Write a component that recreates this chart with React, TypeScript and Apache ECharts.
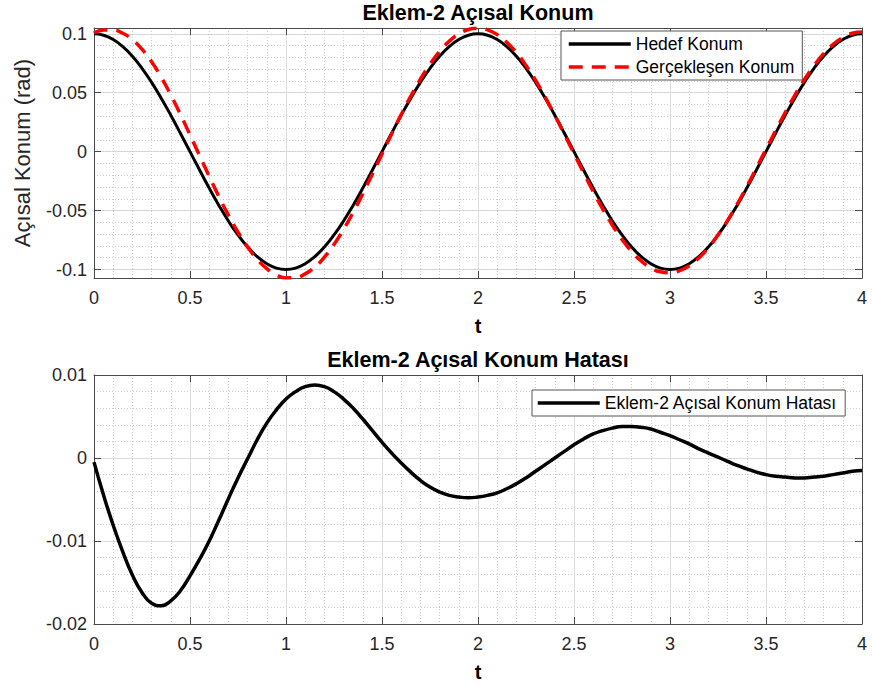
import React, { useEffect, useRef } from "react";
import * as echarts from "echarts";

// time samples (s)
const tValues = [
  0, 0.05, 0.1, 0.15, 0.2, 0.25, 0.3, 0.35, 0.4, 0.45, 0.5,
  0.55, 0.6, 0.65, 0.7, 0.75, 0.8, 0.85, 0.9, 0.95, 1,
  1.05, 1.1, 1.15, 1.2, 1.25, 1.3, 1.35, 1.4, 1.45, 1.5,
  1.55, 1.6, 1.65, 1.7, 1.75, 1.8, 1.85, 1.9, 1.95, 2,
  2.05, 2.1, 2.15, 2.2, 2.25, 2.3, 2.35, 2.4, 2.45, 2.5,
  2.55, 2.6, 2.65, 2.7, 2.75, 2.8, 2.85, 2.9, 2.95, 3,
  3.05, 3.1, 3.15, 3.2, 3.25, 3.3, 3.35, 3.4, 3.45, 3.5,
  3.55, 3.6, 3.65, 3.7, 3.75, 3.8, 3.85, 3.9, 3.95, 4,
];

// Hedef Konum (rad)
const hedefKonum = [
  0.1, 0.0988, 0.0951, 0.0891, 0.0809, 0.0707, 0.0588, 0.0454, 0.0309, 0.0156, 0,
  -0.0156, -0.0309, -0.0454, -0.0588, -0.0707, -0.0809, -0.0891, -0.0951, -0.0988, -0.1,
  -0.0988, -0.0951, -0.0891, -0.0809, -0.0707, -0.0588, -0.0454, -0.0309, -0.0156, 0,
  0.0156, 0.0309, 0.0454, 0.0588, 0.0707, 0.0809, 0.0891, 0.0951, 0.0988, 0.1,
  0.0988, 0.0951, 0.0891, 0.0809, 0.0707, 0.0588, 0.0454, 0.0309, 0.0156, 0,
  -0.0156, -0.0309, -0.0454, -0.0588, -0.0707, -0.0809, -0.0891, -0.0951, -0.0988, -0.1,
  -0.0988, -0.0951, -0.0891, -0.0809, -0.0707, -0.0588, -0.0454, -0.0309, -0.0156, 0,
  0.0156, 0.0309, 0.0454, 0.0588, 0.0707, 0.0809, 0.0891, 0.0951, 0.0988, 0.1,
];

// Gerçekleşen Konum (rad)
const gerceklesenKonum = [
  0.1005, 0.1033, 0.1032, 0.1004, 0.095, 0.0869, 0.0763, 0.0632, 0.0481, 0.0316, 0.0142,
  -0.0034, -0.0209, -0.0379, -0.0539, -0.0683, -0.0808, -0.0913, -0.0993, -0.1046, -0.1071,
  -0.1068, -0.1037, -0.0979, -0.0895, -0.0787, -0.0659, -0.0514, -0.0356, -0.0189, -0.0019,
  0.015, 0.0315, 0.0471, 0.0615, 0.0742, 0.085, 0.0936, 0.0998, 0.1036, 0.1047,
  0.1033, 0.0993, 0.0928, 0.084, 0.0731, 0.0604, 0.0462, 0.0309, 0.0148, -0.0016,
  -0.0179, -0.0338, -0.0487, -0.0624, -0.0745, -0.0847, -0.0928, -0.0986, -0.1019, -0.1027,
  -0.101, -0.0968, -0.0902, -0.0815, -0.0708, -0.0584, -0.0445, -0.0296, -0.0139, 0.002,
  0.0178, 0.0332, 0.0478, 0.0612, 0.073, 0.0831, 0.0911, 0.0969, 0.1004, 0.1015,
];

// Eklem-2 Açısal Konum Hatası (rad)
const konumHatasi = [
  -0.0005, -0.0045, -0.0081, -0.0113, -0.0141, -0.0162, -0.0175, -0.0178, -0.0172, -0.016, -0.0142,
  -0.0122, -0.01, -0.0075, -0.0049, -0.0024, -0.0001, 0.0022, 0.0042, 0.0058, 0.0071,
  0.008, 0.0086, 0.0088, 0.0086, 0.008, 0.0071, 0.006, 0.0047, 0.0033, 0.0019,
  0.0006, -0.0006, -0.0017, -0.0027, -0.0035, -0.0041, -0.0045, -0.0047, -0.0048, -0.0047,
  -0.0045, -0.0042, -0.0037, -0.0031, -0.0024, -0.0016, -0.0008, 0.0, 0.0008, 0.0016,
  0.0023, 0.0029, 0.0033, 0.0036, 0.0038, 0.0038, 0.0037, 0.0035, 0.0031, 0.0027,
  0.0022, 0.0017, 0.0011, 0.0006, 0.0001, -0.0004, -0.0009, -0.0013, -0.0017, -0.002,
  -0.0022, -0.0023, -0.0024, -0.0024, -0.0023, -0.0022, -0.002, -0.0018, -0.0016, -0.0015,
];

const seriesNames = ["Hedef Konum", "Gerçekleşen Konum", "Eklem-2 Açısal Konum Hatası"];
const titles = ["Eklem-2 Açısal Konum", "Eklem-2 Açısal Konum Hatası"];
const xName = "t";
const yName = "Açısal Konum (rad)";

const FONT = '"Liberation Sans", Arial, Helvetica, sans-serif';
const AXIS = "#4a4a4a";
const LABEL = "#262626";
const GRID = "#dcdcdc";
const MINOR = "#cccccc";

const zip = (ys: number[]) => tValues.map((t, i) => [t, ys[i]]);

function bottomX(gridIndex: number) {
  return {
    type: "value",
    gridIndex,
    position: "bottom",
    min: 0,
    max: 4,
    interval: 0.5,
    name: xName,
    nameLocation: "middle",
    nameGap: 38,
    nameTextStyle: { fontFamily: FONT, fontSize: 20, fontWeight: "bold", color: "#000" },
    axisLine: { show: true, onZero: false, lineStyle: { color: AXIS, width: 1 } },
    axisTick: { show: true, inside: true, length: 7, lineStyle: { color: AXIS } },
    axisLabel: { show: true, margin: 11, fontFamily: FONT, fontSize: 18, color: LABEL },
    splitLine: { show: true, lineStyle: { color: GRID, width: 1 } },
    minorTick: { show: false, splitNumber: 5 },
    minorSplitLine: { show: true, lineStyle: { color: MINOR, width: 1, type: [1, 2] } },
  };
}

function topX(gridIndex: number, title: string) {
  return {
    type: "value",
    gridIndex,
    position: "top",
    min: 0,
    max: 4,
    interval: 0.5,
    name: title,
    nameLocation: "middle",
    nameGap: 4,
    nameTextStyle: { fontFamily: FONT, fontSize: 21.5, fontWeight: "bold", color: "#000" },
    axisLine: { show: true, onZero: false, lineStyle: { color: AXIS, width: 1 } },
    axisTick: { show: true, inside: true, length: 7, lineStyle: { color: AXIS } },
    axisLabel: { show: false },
    splitLine: { show: false },
  };
}

const legendCommon = {
  orient: "vertical",
  itemWidth: 62,
  itemHeight: 14,
  backgroundColor: "#fff",
  borderColor: "#555",
  borderWidth: 1,
  borderRadius: 0,
  itemStyle: { opacity: 0 },
  lineStyle: { width: 3.5 },
  textStyle: { fontFamily: FONT, fontSize: 17.5, lineHeight: 18, color: "#000" },
};

export default function App() {
  const ref = useRef<HTMLDivElement>(null);

  useEffect(() => {
    if (!ref.current) return;
    const chart = echarts.init(ref.current, null, { renderer: "svg" });
    const topMin = -0.1072;
    const topMax = 0.1049;
    const option: any = {
      animation: false,
      backgroundColor: "#fff",
      grid: [
        { left: 94, top: 28, width: 768, height: 250 },
        { left: 94, top: 375, width: 768, height: 249 },
      ],
      xAxis: [bottomX(0), topX(0, titles[0]), bottomX(1), topX(1, titles[1])],
      yAxis: [
        {
          type: "value",
          gridIndex: 0,
          position: "left",
          min: topMin,
          max: topMax,
          splitNumber: 5,
          name: yName,
          nameLocation: "middle",
          nameGap: 61,
          nameTextStyle: { fontFamily: FONT, fontSize: 22, color: LABEL },
          axisLine: { show: true, onZero: false, lineStyle: { color: AXIS, width: 1 } },
          axisTick: { show: true, inside: true, length: 7, lineStyle: { color: AXIS } },
          axisLabel: {
            show: true,
            margin: 7,
            fontFamily: FONT,
            fontSize: 18,
            color: LABEL,
            showMinLabel: false,
            showMaxLabel: false,
          },
          splitLine: { show: true, lineStyle: { color: GRID, width: 1 } },
        },
        {
          type: "value",
          gridIndex: 0,
          position: "right",
          min: topMin,
          max: topMax,
          splitNumber: 5,
          axisLine: { show: true, onZero: false, lineStyle: { color: AXIS, width: 1 } },
          axisTick: { show: true, inside: true, length: 7, lineStyle: { color: AXIS } },
          axisLabel: { show: false },
          splitLine: { show: false },
        },
        {
          type: "value",
          gridIndex: 0,
          position: "left",
          min: topMin,
          max: topMax,
          splitNumber: 21,
          axisLine: { show: false },
          axisTick: { show: false },
          axisLabel: { show: false },
          splitLine: { show: true, lineStyle: { color: MINOR, width: 1, type: [1, 2] } },
        },
        {
          type: "value",
          gridIndex: 1,
          position: "left",
          min: -0.02,
          max: 0.01,
          interval: 0.01,
          axisLine: { show: true, onZero: false, lineStyle: { color: AXIS, width: 1 } },
          axisTick: { show: true, inside: true, length: 7, lineStyle: { color: AXIS } },
          axisLabel: { show: true, margin: 7, fontFamily: FONT, fontSize: 18, color: LABEL },
          splitLine: { show: true, lineStyle: { color: GRID, width: 1 } },
          minorTick: { show: false, splitNumber: 5 },
          minorSplitLine: { show: true, lineStyle: { color: MINOR, width: 1, type: [1, 2] } },
        },
        {
          type: "value",
          gridIndex: 1,
          position: "right",
          min: -0.02,
          max: 0.01,
          interval: 0.01,
          axisLine: { show: true, onZero: false, lineStyle: { color: AXIS, width: 1 } },
          axisTick: { show: true, inside: true, length: 7, lineStyle: { color: AXIS } },
          axisLabel: { show: false },
          splitLine: { show: false },
        },
      ],
      legend: [
        {
          ...legendCommon,
          data: [seriesNames[0], seriesNames[1]],
          left: 561,
          top: 31,
          itemGap: 5,
          padding: [4, 8, 4, 6],
        },
        {
          ...legendCommon,
          data: [seriesNames[2]],
          left: 532,
          top: 390,
          padding: [4, 8, 4, 4],
        },
      ],
      series: [
        {
          name: seriesNames[0],
          type: "line",
          xAxisIndex: 0,
          yAxisIndex: 0,
          data: zip(hedefKonum),
          symbol: "none",
          showSymbol: false,
          smooth: true,
          itemStyle: { color: "#000" },
          lineStyle: { color: "#000", width: 3 },
          z: 3,
        },
        {
          name: seriesNames[1],
          type: "line",
          xAxisIndex: 0,
          yAxisIndex: 0,
          data: zip(gerceklesenKonum),
          symbol: "none",
          showSymbol: false,
          smooth: true,
          itemStyle: { color: "#ff0000" },
          lineStyle: { color: "#ff0000", width: 3.5, type: [14, 9] },
          z: 4,
        },
        {
          name: seriesNames[2],
          type: "line",
          xAxisIndex: 2,
          yAxisIndex: 3,
          data: zip(konumHatasi),
          symbol: "none",
          showSymbol: false,
          smooth: true,
          itemStyle: { color: "#000" },
          lineStyle: { color: "#000", width: 3.5 },
          z: 3,
        },
      ],
    };
    chart.setOption(option);
    return () => chart.dispose();
  }, []);

  return (
    <div
      ref={ref}
      style={{ position: "absolute", left: 0, top: 0, width: 872, height: 687, background: "#fff" }}
    />
  );
}
